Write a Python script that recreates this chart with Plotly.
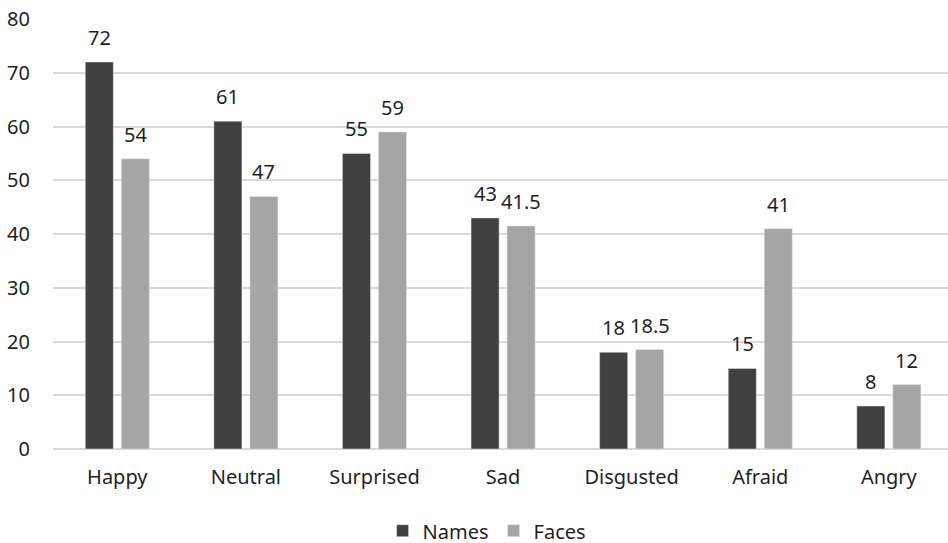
import plotly.graph_objects as go

categories = ["Happy", "Neutral", "Surprised", "Sad", "Disgusted", "Afraid", "Angry"]
names_vals = [72, 61, 55, 43, 18, 15, 8]
faces_vals = [54, 47, 59, 41.5, 18.5, 41, 12]
y_ticks = [0, 10, 20, 30, 40, 50, 60, 70, 80]

DARK = "#404040"
LIGHT = "#a5a5a5"
TEXT = "#1f1f1f"
FONT = "Noto Sans"

fig = go.Figure()
fig.add_trace(go.Bar(name="Names", x=categories, y=names_vals, marker_color=DARK))
fig.add_trace(go.Bar(name="Faces", x=categories, y=faces_vals, marker_color=LIGHT))

annotations = []
for vals, shift in ((names_vals, -18), (faces_vals, 18)):
    for c, v in zip(categories, vals):
        annotations.append(dict(x=c, y=v, xref="x", yref="y", text=f"{v:g}",
                                showarrow=False, xshift=shift, yshift=9,
                                yanchor="bottom", xanchor="center",
                                font=dict(size=20, color=TEXT, family=FONT)))

fig.update_layout(
    width=948, height=543,
    margin=dict(l=53, r=0, t=19, b=94, autoexpand=False),
    paper_bgcolor="white", plot_bgcolor="white",
    barmode="group", bargap=0.44, bargroupgap=0.22,
    font=dict(family=FONT, size=20, color=TEXT),
    legend=dict(orientation="h", x=0.485, xanchor="center", y=-0.19, yanchor="middle",
                font=dict(size=20, color=TEXT), itemwidth=30, traceorder="normal"),
    xaxis=dict(range=[-0.5, 6.46], showgrid=False, showline=False, automargin=False,
               ticks="outside", ticklen=10, tickcolor="rgba(0,0,0,0)",
               tickfont=dict(size=20, color=TEXT)),
    yaxis=dict(range=[0, 80], tickvals=y_ticks, showgrid=True, gridcolor="#d9d9d9",
               gridwidth=2, zeroline=True, zerolinecolor="#d9d9d9", zerolinewidth=2,
               showline=False, automargin=False, ticks="outside", ticklen=18,
               tickcolor="rgba(0,0,0,0)", tickfont=dict(size=20, color=TEXT)),
    annotations=annotations,
)

fig.write_html("out.html", config={"displayModeBar": False},
               post_script="document.body.style.margin='0';")
